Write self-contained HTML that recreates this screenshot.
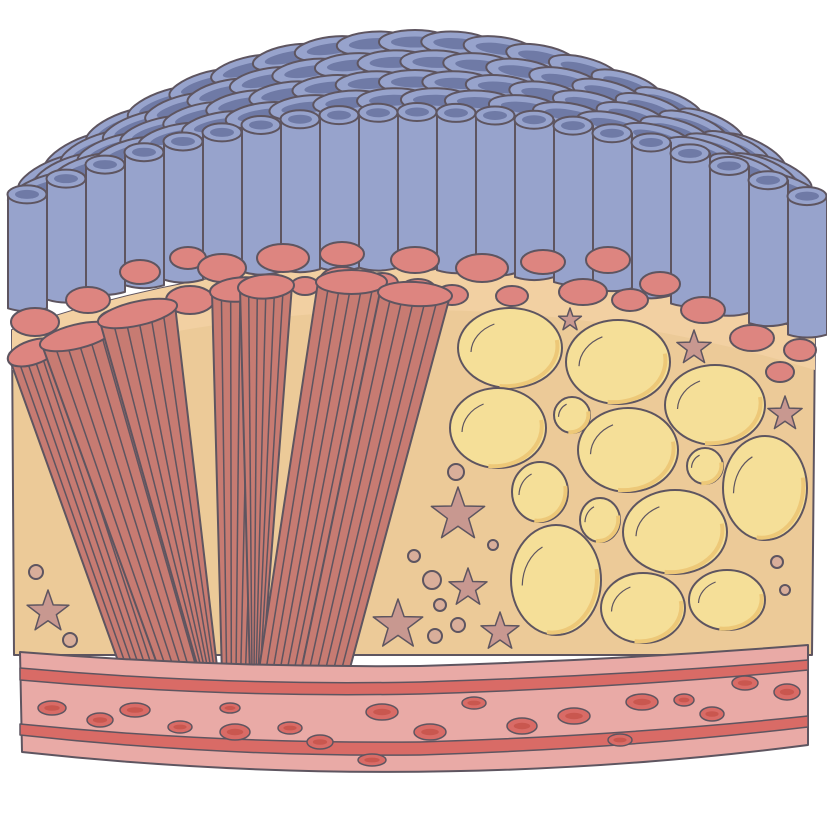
<!DOCTYPE html>
<html><head><meta charset="utf-8"><style>html,body{margin:0;padding:0;background:#fff}svg{display:block}</style></head>
<body>
<svg id="s" width="827" height="827" viewBox="0 0 827 827" xmlns="http://www.w3.org/2000/svg" stroke="#5e5560" stroke-width="2" stroke-linejoin="round">
<path d="M12,330 Q420,190 815,335 L812,655 L14,655 Z" fill="#ecca98"/>
<path d="M12,330 Q420,190 815,335 L815,370 Q420,250 12,370 Z" fill="#f2d0a2" stroke="none"/>
<g id="blue"></g>
<g id="caps"></g>
<g id="mus"></g>
<g id="fat"></g>
<g id="misc"></g>
<path d="M20,652 Q220,668 420,666 Q620,660 808,645 L808,745 Q420,795 22,752 Z" fill="#e9aaa6"/>
<path d="M20,668 Q220,686 420,682 Q620,676 808,660 L808,670 Q620,688 420,694 Q220,698 20,680 Z" fill="#d96b66" stroke-width="1.5"/>
<path d="M20,724 Q220,744 420,742 Q620,736 808,716 L808,727 Q620,749 420,755 Q220,757 20,735 Z" fill="#d96b66" stroke-width="1.5"/>
<g id="rbc"></g>
</svg>
<script>
const NS="http://www.w3.org/2000/svg";
function el(p,t,a){const e=document.createElementNS(NS,t);for(const k in a)e.setAttribute(k,a[k]);document.getElementById(p).appendChild(e);return e;}
const yb=x=>{const t=(x-12)/803;return 310*(1-t)*(1-t)+2*t*(1-t)*210+335*t*t;};
const yt=x=>{const d=(x-415)/410;return 112+92*d*d;};
const rows=[[42,380,140],[62,385,125],[82,390,112],[100,395,100]];
for(let r=0;r<rows.length;r++){const [y0,w,c]=rows[r];const n=9;
 for(let i=0;i<=n*2;i++){const x=415-w+i*(w/n)+(r%2?w/(2*n):0);const d=(x-415)/w;if(Math.abs(d)>0.97)continue;const y=y0+d*d*c;
  const rot=Math.atan(2*c*d/w)*180/Math.PI;
  el("blue","ellipse",{cx:x,cy:y,rx:36,ry:12,fill:"#97a3cc",transform:`rotate(${rot*0.8} ${x} ${y})`});
  el("blue","ellipse",{cx:x,cy:y,rx:24,ry:5.5,fill:"#6f7aa6",stroke:"none",transform:`rotate(${rot*0.8} ${x} ${y})`});}}
for(let x=8;x<820;x+=39){const xc=x+19;const top=yt(xc);const bot=yb(xc);
 el("blue","path",{d:`M${x},${top} L${x},${bot+2} Q${xc},${bot+8} ${x+39},${bot+2} L${x+39},${top} Z`,fill:"#97a3cc"});
 el("blue","ellipse",{cx:xc,cy:top,rx:19.5,ry:9,fill:"#97a3cc"});
 el("blue","ellipse",{cx:xc,cy:top,rx:12,ry:4.5,fill:"#6f7aa6",stroke:"none"});}
const caps=[[35,322,24,14],[88,300,22,13],[140,272,20,12],[188,258,18,11],[222,268,24,14],[283,258,26,14],[342,254,22,12],[415,260,24,13],[482,268,26,14],[543,262,22,12],[608,260,22,13],[660,284,20,12],[703,310,22,13],[752,338,22,13],[800,350,16,11],[780,372,14,10],[583,292,24,13],[630,300,18,11],[512,296,16,10],[30,358,22,13],[82,340,18,12],[120,322,22,13],[190,300,24,14],[265,288,24,13],[305,286,14,9],[342,280,22,13],[382,283,16,10],[418,290,18,11],[452,295,16,10]];
caps.forEach(c=>el("caps","ellipse",{cx:c[0],cy:c[1],rx:c[2],ry:c[3],fill:"#dd8580"}));
const m=[[[10,360],[55,345],[160,672],[122,672]],[[42,345],[112,328],[205,672],[160,672]],[[100,322],[175,305],[218,675],[200,675]],[[212,292],[268,287],[250,676],[222,676]],[[240,288],[292,285],[262,676],[250,676]],[[318,282],[385,282],[300,676],[258,676]],[[380,292],[450,296],[350,668],[300,676]]];
m.forEach(q=>{el("mus","path",{d:`M${q[0]} L${q[1]} L${q[2]} L${q[3]} Z`,fill:"#c77b72"});
 for(let k=1;k<6;k++){const f=k/6;const a=[q[0][0]+(q[1][0]-q[0][0])*f,q[0][1]+(q[1][1]-q[0][1])*f];const b=[q[3][0]+(q[2][0]-q[3][0])*f,q[3][1]+(q[2][1]-q[3][1])*f];
  el("mus","line",{x1:a[0],y1:a[1],x2:b[0],y2:b[1],"stroke-width":1.5});}
 const cx=(q[0][0]+q[1][0])/2,cy=(q[0][1]+q[1][1])/2;el("mus","ellipse",{cx:cx,cy:cy,rx:Math.hypot(q[1][0]-q[0][0],q[1][1]-q[0][1])/2+2,ry:12,fill:"#dd8580",transform:`rotate(${Math.atan2(q[1][1]-q[0][1],q[1][0]-q[0][0])*180/Math.PI} ${cx} ${cy})`});});
const fat=[[510,348,52,40],[618,362,52,42],[715,405,50,40],[498,428,48,40],[628,450,50,42],[572,415,18,18],[540,492,28,30],[600,520,20,22],[705,466,18,18],[765,488,42,52],[675,532,52,42],[556,580,45,55],[643,608,42,35],[727,600,38,30]];
fat.forEach(f=>{el("fat","ellipse",{cx:f[0],cy:f[1],rx:f[2],ry:f[3],fill:"#f5df98"});
 el("fat","path",{d:`M${f[0]+f[2]*0.9},${f[1]-f[3]*0.2} A${f[2]},${f[3]} 0 0 1 ${f[0]-f[2]*0.2},${f[1]+f[3]*0.95}`,fill:"none",stroke:"#edc878","stroke-width":4});
 el("fat","path",{d:`M${f[0]-f[2]*0.75},${f[1]+f[3]*0.1} A${f[2]*0.8},${f[3]*0.8} 0 0 1 ${f[0]-f[2]*0.3},${f[1]-f[3]*0.6}`,fill:"none","stroke-width":1.2});});
[[36,572,7],[70,640,7],[456,472,8],[414,556,6],[432,580,9],[440,605,6],[435,636,7],[458,625,7],[493,545,5],[777,562,6],[785,590,5]].forEach(d=>el("misc","circle",{cx:d[0],cy:d[1],r:d[2],fill:"#d9ae9a"}));
function star(x,y,r){let p="";for(let i=0;i<10;i++){const a=i*Math.PI/5-Math.PI/2;const rr=i%2?r*0.4:r;p+=(i?"L":"M")+(x+rr*Math.cos(a))+","+(y+rr*Math.sin(a));}el("misc","path",{d:p+"Z",fill:"#c89890","stroke-width":1.5});}
star(48,612,22);star(458,515,28);star(468,588,20);star(500,632,20);star(398,625,26);star(785,414,18);star(694,348,18);star(570,320,12);
[[52,708,14,7],[100,720,13,7],[135,710,15,7],[180,727,12,6],[235,732,15,8],[290,728,12,6],[320,742,13,7],[382,712,16,8],[430,732,16,8],[474,703,12,6],[522,726,15,8],[574,716,16,8],[620,740,12,6],[642,702,16,8],[684,700,10,6],[712,714,12,7],[745,683,13,7],[787,692,13,8],[372,760,14,6],[230,708,10,5]].forEach(r=>{el("rbc","ellipse",{cx:r[0],cy:r[1],rx:r[2],ry:r[3],fill:"#d96b66","stroke-width":1.5});el("rbc","ellipse",{cx:r[0],cy:r[1],rx:r[2]*0.55,ry:r[3]*0.4,fill:"#c9574f",stroke:"none"});});
</script>
</body></html>
